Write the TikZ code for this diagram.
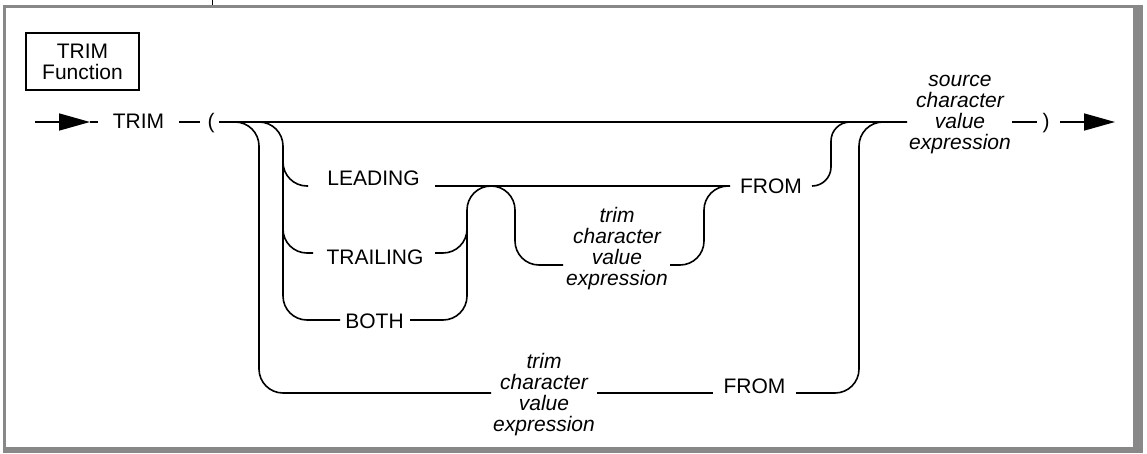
\documentclass[tikz,border=0pt]{standalone}
\usepackage{fontspec}
\setmainfont{Liberation Sans}
\usetikzlibrary{arrows.meta}
\definecolor{framegray}{RGB}{136,136,136}
\begin{document}
\begin{tikzpicture}[x=1pt,y=-1pt, line width=1.6pt,
  lbl/.style={inner sep=0pt, font=\fontsize{21}{21}\selectfont},
  ilbl/.style={inner sep=0pt, font=\fontsize{21}{21}\selectfont\itshape, align=center},
  rc/.style={rounded corners=24pt},
  tip/.style={-{Triangle[length=31pt,width=17pt]}}]
\useasboundingbox (0,0) rectangle (1147,453);
% frame
\fill[framegray] (3,5) rectangle (1143,8);
\fill[framegray] (3,5) rectangle (6,453);
\fill[framegray] (1133,8) rectangle (1143,453);
\fill[framegray] (3,447) rectangle (1143,453);
\draw[line width=1pt] (212,0) -- (212,5);
% title box
\node[lbl, draw, line width=2pt, minimum width=113pt, minimum height=57pt, align=center] (title) at (82.5,61.5) {TRIM\\Function};
% main row
\coordinate (s0) at (35,122);
\coordinate (s1) at (90,122);
\coordinate (s2) at (98,122);
\node[lbl, anchor=base] (trim) at (138.5,128) {TRIM};
\coordinate (s3) at (179,122);
\coordinate (s4) at (200,122);
\node[lbl, anchor=base] (lp) at (211,128) {(};
\coordinate (s5) at (219,122);
\coordinate (s6) at (907,122);
\node[ilbl] (src) at (960,114.5) {source\\character\\value\\expression};
\coordinate (s7) at (1012,122);
\coordinate (s8) at (1037,122);
\node[lbl, anchor=base] (rp) at (1046,128) {)};
\coordinate (s9) at (1060,122);
\coordinate (s10) at (1115,122);
% outer loop
\coordinate (oBL) at (259,393);
\coordinate (o1) at (491,393);
\node[ilbl] (trimB) at (544,394.5) {trim\\character\\value\\expression};
\coordinate (o2) at (597,393);
\coordinate (o3) at (713,393);
\node[lbl, anchor=base] (fromB) at (754.5,393) {FROM};
\coordinate (o4) at (796,393);
\coordinate (oTR) at (859,122);
% inner loop
\coordinate (iBL) at (283,320);
\coordinate (b1) at (340,320);
\node[lbl, anchor=base] (both) at (374.5,328) {BOTH};
\coordinate (b2) at (410,320);
\coordinate (jTop) at (467,186);
\coordinate (bumpR) at (515,265);
\coordinate (m1) at (563,265);
\node[ilbl] (trimM) at (617,249) {trim\\character\\value\\expression};
\coordinate (m2) at (670,265);
\coordinate (mTR) at (704,186);
\coordinate (m3) at (730,186);
\node[lbl, anchor=base] (fromM) at (771,193) {FROM};
\coordinate (f1) at (812,186);
\coordinate (fT) at (831,122);
\coordinate (f2) at (850,122);
% leading / trailing
\coordinate (l0) at (283,160);
\coordinate (l1) at (308,186);
\node[lbl, anchor=base] (lead) at (373.5,185) {LEADING};
\coordinate (l2) at (435,186);
\coordinate (t0) at (283,227);
\coordinate (t1) at (313,253);
\node[lbl, anchor=base] (trail) at (375,264.5) {TRAILING};
\coordinate (t2) at (435,253);
\coordinate (t3) at (467,227);
% connectors
\draw[tip] (s0) -- (s1);
\draw (s1) -- (s2);
\draw (s3) -- (s4);
\draw (s5) -- (s6);
\draw (s7) -- (s8);
\draw[tip] (s9) -- (s10);
\draw[rc] (s5) -| (oBL) -- (o1);
\draw (o2) -- (o3);
\draw[rc] (o4) -| (oTR) -- (s6);
\draw[rc] (s5) -| (iBL) -- (b1);
\draw[rc] (l0) |- (l1);
\draw (l2) -- (m3);
\draw[rc] (t0) |- (t1);
\draw[rc] (t2) -| (t3);
\draw[rc] (b2) -| (jTop) -| (bumpR) -- (m1);
\draw[rc] (m2) -| (mTR) -- (m3);
\draw[rounded corners=19pt] (f1) -| (fT) -- (f2);
\end{tikzpicture}
\end{document}
